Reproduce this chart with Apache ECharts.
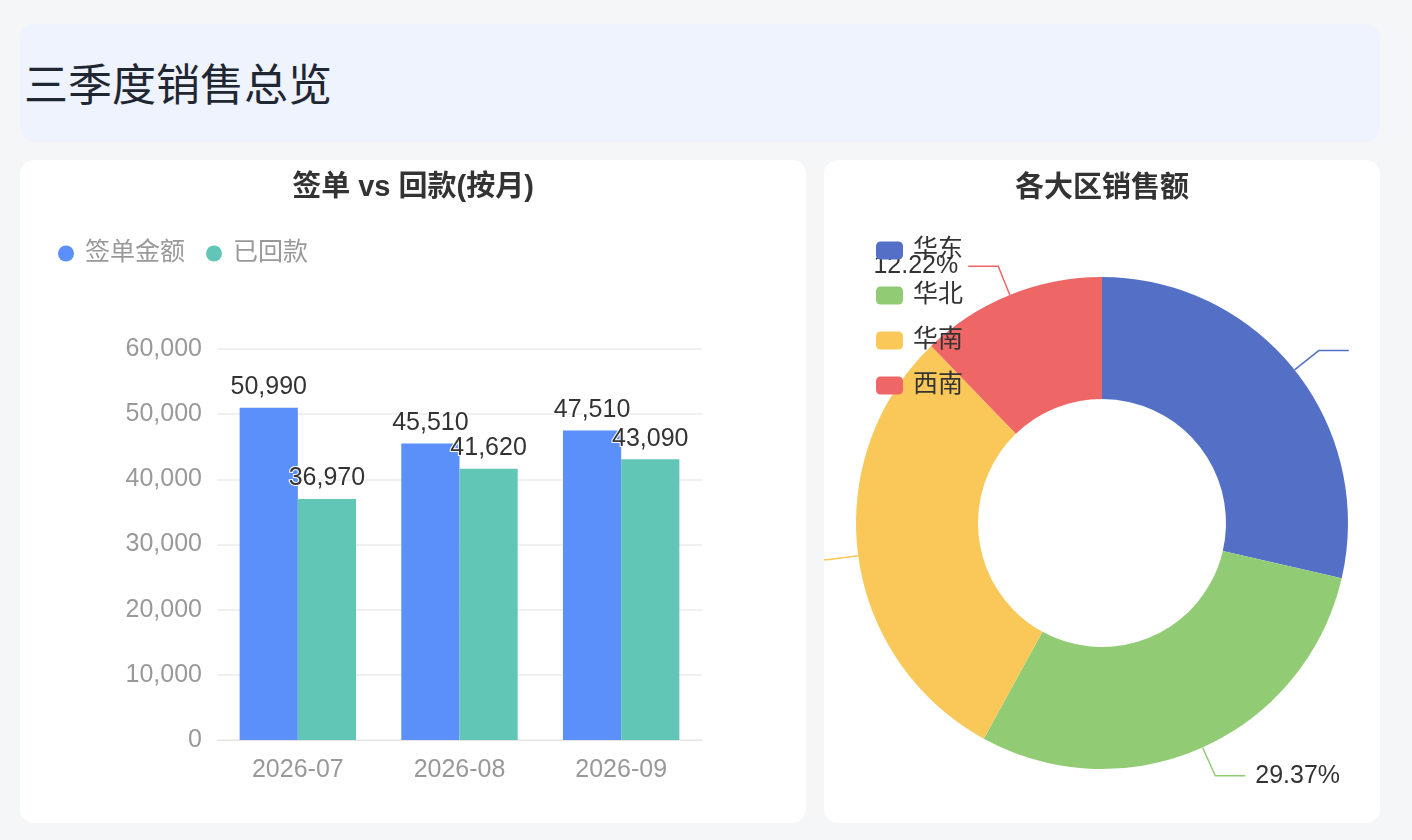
<!DOCTYPE html>
<html>
<head>
<meta charset="utf-8">
<script src="https://cdn.jsdelivr.net/npm/echarts@6/dist/echarts.min.js"></script>
<style>
  html, body { margin: 0; padding: 0; }
  body { width: 1412px; height: 840px; background: #f5f6f8; position: relative; overflow: hidden;
         font-family: "Liberation Sans", "Noto Sans CJK SC", sans-serif; }
  #header { position: absolute; left: 20px; top: 24px; width: 1360px; height: 118px; background: #eef3fd; border-radius: 14px; }
  #header h1 { position: absolute; left: 4px; top: 0; margin: 0; line-height: 124px; font-size: 44px; font-weight: 400; color: #1f2733; }
  .panel { position: absolute; top: 160px; height: 663px; background: #fff; border-radius: 14px; overflow: hidden; }
  #p1 { left: 20px; width: 786px; }
  #p2 { left: 824px; width: 556px; }
  .chart { width: 100%; height: 100%; }
</style>
</head>
<body>
<div id="header"><h1>三季度销售总览</h1></div>
<div class="panel" id="p1"><div class="chart" id="bar"></div></div>
<div class="panel" id="p2"><div class="chart" id="pie"></div></div>
<script>
const months = ['2026-07', '2026-08', '2026-09'];
const signed = [50990, 45510, 47510];
const collected = [36970, 41620, 43090];
const regions = ['华东', '华北', '华南', '西南'];
const regionSales = [41200, 42290, 42910, 17600];

const FONT = '"Liberation Sans", "Noto Sans CJK SC", sans-serif';
const fmt = v => Number(v).toLocaleString('en-US');

const bar = echarts.init(document.getElementById('bar'));
bar.setOption({
  animation: false,
  textStyle: { fontFamily: FONT },
  title: {
    text: '签单 vs 回款(按月)', left: 'center', top: 13, padding: 0,
    textStyle: { fontSize: 29, fontWeight: 'bold', color: '#333', fontFamily: FONT }
  },
  legend: {
    left: 38, top: 81, padding: 0, icon: 'circle', itemWidth: 16, itemHeight: 16, itemGap: 21,
    textStyle: { fontSize: 25, color: '#999', fontFamily: FONT, padding: [0, 0, 0, 6] }
  },
  grid: { left: 197, right: 104, top: 189, bottom: 83, containLabel: false },
  xAxis: {
    type: 'category', data: months,
    axisLine: { lineStyle: { color: '#e6e6e6' } },
    axisTick: { show: false },
    axisLabel: { fontSize: 25, color: '#999', margin: 18, fontFamily: FONT }
  },
  yAxis: {
    type: 'value', min: 0, max: 60000, interval: 10000,
    axisLine: { show: false }, axisTick: { show: false },
    splitLine: { lineStyle: { color: '#ebebeb', width: 1.5 } },
    axisLabel: { fontSize: 25, color: '#999', margin: 15, fontFamily: FONT, formatter: fmt }
  },
  series: [
    {
      name: '签单金额', type: 'bar', data: signed, barGap: '0%', barCategoryGap: '28%',
      itemStyle: { color: '#5b8ff9' },
      label: { show: true, position: 'top', distance: 8, fontSize: 25, color: '#333',
               textBorderColor: '#fff', textBorderWidth: 2, fontFamily: FONT,
               formatter: p => fmt(p.value) }
    },
    {
      name: '已回款', type: 'bar', data: collected,
      itemStyle: { color: '#62c6b7' },
      label: { show: true, position: 'top', distance: 8, fontSize: 25, color: '#333',
               textBorderColor: '#fff', textBorderWidth: 2, fontFamily: FONT,
               formatter: p => fmt(p.value) }
    }
  ]
});

const pie = echarts.init(document.getElementById('pie'));
pie.setOption({
  animation: false,
  textStyle: { fontFamily: FONT },
  color: ['#5470c6', '#91cc75', '#fac858', '#ee6666'],
  title: {
    text: '各大区销售额', left: 'center', top: 14, padding: 0,
    textStyle: { fontSize: 29, fontWeight: 'bold', color: '#333', fontFamily: FONT }
  },
  legend: {
    orient: 'vertical', left: 52, top: 78, padding: 0, icon: 'roundRect',
    itemWidth: 27, itemHeight: 18, itemGap: 20,
    textStyle: { fontSize: 25, color: '#333', fontFamily: FONT, padding: [0, 0, 0, 5] }
  },
  series: [{
    type: 'pie', center: ['50%', 363], radius: [124, 246],
    data: regions.map((n, i) => ({ name: n, value: regionSales[i] })),
    label: { formatter: '{d}%', fontSize: 25, color: '#333', fontFamily: FONT, distanceToLabelLine: 10 },
    labelLine: { length: 31, length2: 30, lineStyle: { width: 1.5 } }
  }]
});
</script>
</body>
</html>
